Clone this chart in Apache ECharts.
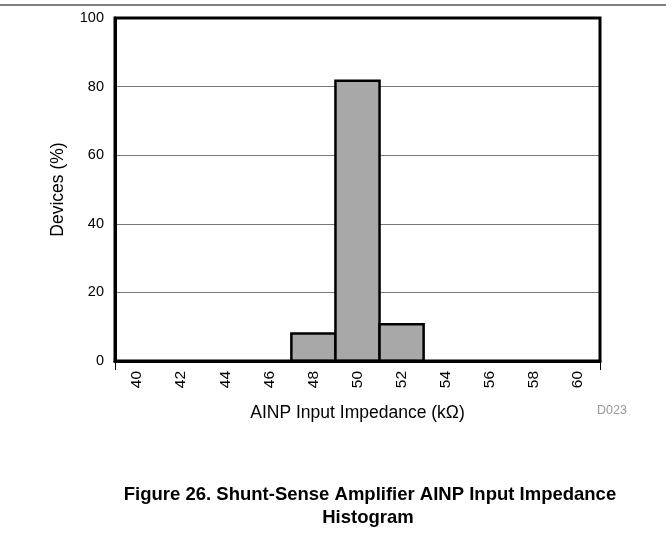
<!DOCTYPE html>
<html><head><meta charset="utf-8">
<script src="https://cdn.jsdelivr.net/npm/echarts@6/dist/echarts.min.js"></script>
<style>html,body{margin:0;padding:0;background:#fff}#c{width:666px;height:537px}</style>
</head><body><div id="c"></div>
<script>
var binStart = [47, 49, 51];
var binEnd = [49, 51, 53];
var devicesPct = [8, 81.7, 10.7];
var xTickLabels = [40, 42, 44, 46, 48, 50, 52, 54, 56, 58, 60];
var yTicks = [0, 20, 40, 60, 80, 100];

var data = binStart.map(function (s, i) { return [s, binEnd[i], devicesPct[i]]; });
var chart = echarts.init(document.getElementById('c'), null, {renderer: 'canvas'});
var font = 'Liberation Sans, Arial, sans-serif';
chart.setOption({
  animation: false,
  grid: {left: 115, right: 66, top: 18, bottom: 176, show: false},
  xAxis: {
    type: 'value', min: 39, max: 61,
    name: 'AINP Input Impedance (k\u03A9)', nameLocation: 'middle', nameGap: 43,
    nameTextStyle: {fontFamily: font, fontSize: 17.5, color: '#000'},
    axisLine: {show: true, lineStyle: {color: '#000', width: 3}},
    axisTick: {show: true, customValues: [39, 61], length: 9, lineStyle: {color: '#000', width: 1}},
    axisLabel: {customValues: xTickLabels, rotate: 90, margin: 10, fontFamily: font, fontSize: 15.5, color: '#000'},
    splitLine: {show: false}
  },
  yAxis: {
    type: 'value', min: 0, max: 100, interval: 20,
    name: 'Devices (%)', nameLocation: 'middle', nameGap: 48, nameRotate: 90,
    nameTextStyle: {fontFamily: font, fontSize: 17.5, color: '#000'},
    axisLine: {show: true, lineStyle: {color: '#000', width: 3}},
    axisTick: {show: false},
    axisLabel: {margin: 11, fontFamily: font, fontSize: 14.5, color: '#000'},
    splitLine: {show: true, lineStyle: {color: '#777', width: 1}}
  },
  graphic: [
    {type: 'line', shape: {x1: 0, y1: 5, x2: 666, y2: 5}, style: {stroke: '#000', lineWidth: 1}},
    {type: 'rect', shape: {x: 115, y: 18, width: 485, height: 343}, style: {fill: 'none', stroke: '#000', lineWidth: 3}, z: 100},
    {type: 'text', x: 612, y: 411, style: {text: 'D023', fill: '#999', font: '12.5px ' + font, textAlign: 'center', textVerticalAlign: 'middle'}},
    {type: 'text', x: 370, y: 495, style: {text: 'Figure 26. Shunt-Sense Amplifier AINP Input Impedance', fill: '#000', font: 'bold 18.5px ' + font, textAlign: 'center', textVerticalAlign: 'middle'}},
    {type: 'text', x: 368, y: 518, style: {text: 'Histogram', fill: '#000', font: 'bold 18.5px ' + font, textAlign: 'center', textVerticalAlign: 'middle'}}
  ],
  series: [{
    type: 'custom',
    data: data,
    encode: {x: [0, 1], y: 2},
    renderItem: function (params, api) {
      var p0 = api.coord([api.value(0), api.value(2)]);
      var p1 = api.coord([api.value(1), 0]);
      return {type: 'rect', shape: {x: p0[0], y: p0[1], width: p1[0] - p0[0], height: p1[1] - p0[1]},
        style: {fill: '#a8a8a8', stroke: '#000', lineWidth: 2.5}};
    }
  }]
});
</script></body></html>
